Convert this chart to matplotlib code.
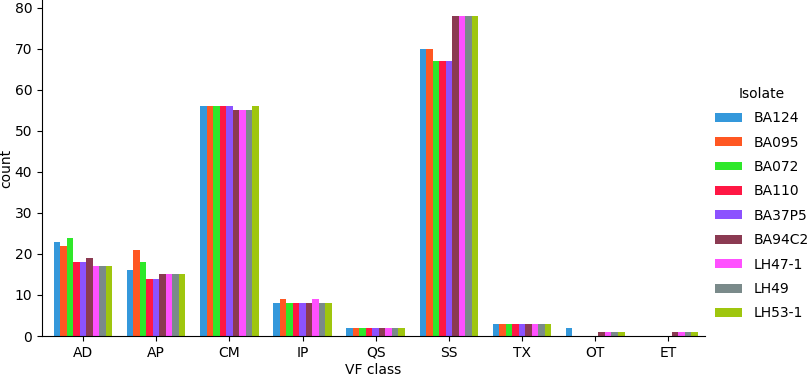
import matplotlib
matplotlib.use("Agg")
import matplotlib.pyplot as plt
import numpy as np

categories = ["AD", "AP", "CM", "IP", "QS", "SS", "TX", "OT", "ET"]
isolates = ["BA124", "BA095", "BA072", "BA110", "BA37P5", "BA94C2", "LH47-1", "LH49", "LH53-1"]
colors = ["#3498db", "#ff5722", "#2ee82a", "#ff1744", "#8c52ff", "#8b3a52", "#ff50ff", "#7a8a8a", "#9fc60e"]

BA124 = [23, 16, 56, 8, 2, 70, 3, 2, 0]
BA095 = [22, 21, 56, 9, 2, 70, 3, 0, 0]
BA072 = [24, 18, 56, 8, 2, 67, 3, 0, 0]
BA110 = [18, 14, 56, 8, 2, 67, 3, 0, 0]
BA37P5 = [18, 14, 56, 8, 2, 67, 3, 0, 0]
BA94C2 = [19, 15, 55, 8, 2, 78, 3, 1, 1]
LH47_1 = [17, 15, 55, 9, 2, 78, 3, 1, 1]
LH49 = [17, 15, 55, 8, 2, 78, 3, 1, 1]
LH53_1 = [17, 15, 56, 8, 2, 78, 3, 1, 1]
series = [BA124, BA095, BA072, BA110, BA37P5, BA94C2, LH47_1, LH49, LH53_1]

fig = plt.figure(figsize=(8.1, 3.77), dpi=100)
ax = fig.add_axes([42/810, 41/377, 663/810, 336/377])

x = np.arange(len(categories))
n = len(isolates)
w = 0.8 / n
for i, (name, vals, c) in enumerate(zip(isolates, series, colors)):
    ax.bar(x - 0.4 + w * (i + 0.5), vals, width=w, color=c, label=name, linewidth=0)

ax.set_xticks(x)
ax.set_xticklabels(categories, fontsize=10)
ax.set_xlim(-0.56, 8.5)
ax.set_ylim(0, 81.9)
ax.set_yticks(np.arange(0, 81, 10))
ax.tick_params(labelsize=10)
ax.set_xlabel("VF class", fontsize=10, labelpad=2)
ax.set_ylabel("count", fontsize=10, labelpad=1)
ax.spines["top"].set_visible(False)
ax.spines["right"].set_visible(False)

leg = ax.legend(title="Isolate", frameon=False, loc="center left",
                bbox_to_anchor=(702/810, 0.46), bbox_transform=fig.transFigure,
                fontsize=10, title_fontsize=10,
                handlelength=2.0, handleheight=0.6, labelspacing=0.75)

fig.savefig("out.png", dpi=100)
